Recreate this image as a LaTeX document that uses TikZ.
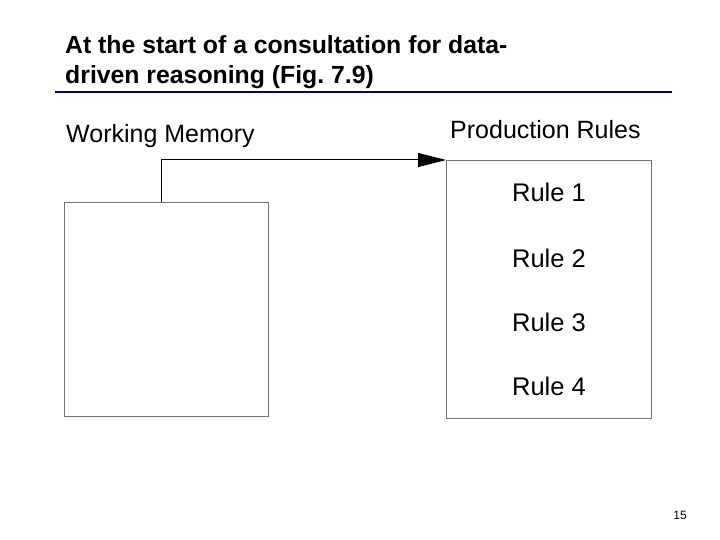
\documentclass[tikz,border=0pt]{standalone}
\usepackage{fontspec}
\setmainfont{Liberation Sans}
\usetikzlibrary{arrows.meta}
\begin{document}
\begin{tikzpicture}[x=1pt,y=-1pt,
  box/.style={draw=black!55,line width=0.8pt},
  lbl/.style={inner sep=0pt,anchor=base west,font=\fontsize{25}{30}\selectfont},
  rule/.style={inner sep=0pt,anchor=base,font=\fontsize{25.5}{30}\selectfont}]
\useasboundingbox[fill=white] (0,0) rectangle (720,540);
\node[inner sep=0pt,anchor=base west,align=left,font=\bfseries\fontsize{24.8}{30}\selectfont] (title) at (65,84) {At the start of a consultation for data-\\driven reasoning (Fig.\ 7.9)};
\draw[draw=blue!50!black,line width=2pt] (55,92) -- (672,92);
\node[lbl] (wml) at (66,143) {Working Memory};
\node[lbl] (prl) at (450,139) {Production Rules};
\node[box,minimum width=204pt,minimum height=214pt,anchor=north west] (wm) at (64,202) {};
\node[box,minimum width=205pt,minimum height=258pt,anchor=north west] (pr) at (446,160) {};
\node[rule] (r1) at (549,202) {Rule 1};
\node[rule] (r2) at (549,267) {Rule 2};
\node[rule] (r3) at (549,331) {Rule 3};
\node[rule] (r4) at (549,395) {Rule 4};
\draw[line width=1pt,-{Triangle[length=28pt,width=14pt]}] (wm.north west -| 161,0) -- (161,160) -- (pr.north west);
\node[inner sep=0pt,font=\fontsize{12}{14}\selectfont] (pg) at (680,515) {15};
\end{tikzpicture}
\end{document}
